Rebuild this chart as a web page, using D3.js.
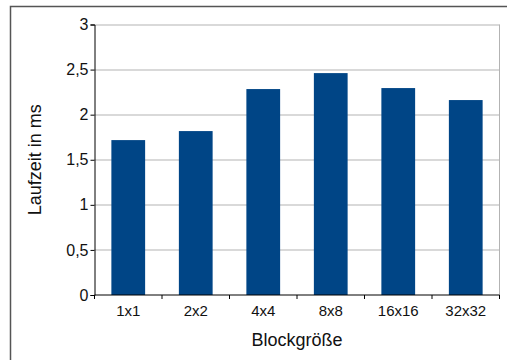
<!DOCTYPE html>
<html>
<head>
<meta charset="utf-8">
<script src="https://cdn.jsdelivr.net/npm/d3@7"></script>
<style>
	body { margin: 0; background: #fff; }
	text { font-family: "Liberation Sans", Arial, sans-serif; fill: #111; }
</style>
</head>
<body>
<svg id="chart" width="507" height="360"></svg>
<script>
// Laufzeit je Blockgröße
const blockSizes = ["1x1", "2x2", "4x4", "8x8", "16x16", "32x32"];
const runtimes = [1.718, 1.818, 2.284, 2.461, 2.295, 2.162];
const yTicks = [0, 0.5, 1, 1.5, 2, 2.5, 3];

const svg = d3.select("#chart");
const margin = { left: 94.5, right: 7.5, top: 24.5, bottom: 65 };
const width = 507 - margin.left - margin.right;
const height = 360 - margin.top - margin.bottom;

// outer frame (only top and left visible)
svg.append("path")
	.attr("d", "M10.5,360 V6.5 H507")
	.attr("fill", "none")
	.attr("stroke", "#555")
	.attr("stroke-width", 1.5);

const g = svg.append("g")
	.attr("transform", `translate(${margin.left},${margin.top})`);

const xScale = d3.scaleBand()
	.domain(blockSizes)
	.range([0, width])
	.paddingInner(0.5)
	.paddingOuter(0.25);

const yScale = d3.scaleLinear()
	.domain([0, 3])
	.range([height, 0]);

// gridlines
g.selectAll(".grid")
	.data(yTicks.filter(d => d > 0))
	.join("line")
	.attr("class", "grid")
	.attr("x1", 0)
	.attr("x2", width)
	.attr("y1", d => Math.round(yScale(d)) + 0.5)
	.attr("y2", d => Math.round(yScale(d)) + 0.5)
	.attr("stroke", "#b3b3b3")
	.attr("stroke-width", 1);

// right border of plot area
g.append("line")
	.attr("x1", width).attr("x2", width)
	.attr("y1", yScale(3)).attr("y2", height)
	.attr("stroke", "#b3b3b3");

// bars
g.selectAll(".bar")
	.data(blockSizes.map((k, i) => ({ key: k, value: runtimes[i] })))
	.join("rect")
	.attr("class", "bar")
	.attr("x", d => xScale(d.key))
	.attr("y", d => yScale(d.value))
	.attr("width", xScale.bandwidth())
	.attr("height", d => height - yScale(d.value))
	.attr("fill", "#004586");

// y axis
const yAxisG = g.append("g")
	.call(d3.axisLeft(yScale)
		.tickValues(yTicks)
		.tickFormat(d => String(d).replace(".", ","))
		.tickSize(4)
		.tickPadding(2));
yAxisG.select(".domain").attr("stroke", "#000");
yAxisG.selectAll("text").style("font-size", "16px").attr("fill", "#111");

// x axis with ticks at band boundaries
const step = width / blockSizes.length;
const xAxisG = g.append("g")
	.attr("transform", `translate(0,${height})`);
xAxisG.append("line")
	.attr("x1", 0).attr("x2", width)
	.attr("y1", 0).attr("y2", 0)
	.attr("stroke", "#000");
xAxisG.selectAll(".tick")
	.data(d3.range(blockSizes.length + 1))
	.join("line")
	.attr("class", "tick")
	.attr("x1", i => i * step).attr("x2", i => i * step)
	.attr("y1", 0).attr("y2", 4)
	.attr("stroke", "#000");
xAxisG.selectAll(".label")
	.data(blockSizes)
	.join("text")
	.attr("class", "label")
	.attr("x", d => xScale(d) + xScale.bandwidth() / 2)
	.attr("y", 20.5)
	.attr("text-anchor", "middle")
	.style("font-size", "15px")
	.text(d => d);

// axis titles
g.append("text")
	.attr("x", width / 2)
	.attr("y", height + 51)
	.attr("text-anchor", "middle")
	.style("font-size", "18px")
	.text("Blockgröße");

g.append("text")
	.attr("transform", "rotate(-90)")
	.attr("x", -height / 2)
	.attr("y", -54)
	.attr("text-anchor", "middle")
	.style("font-size", "18px")
	.text("Laufzeit in ms");
</script>
</body>
</html>
